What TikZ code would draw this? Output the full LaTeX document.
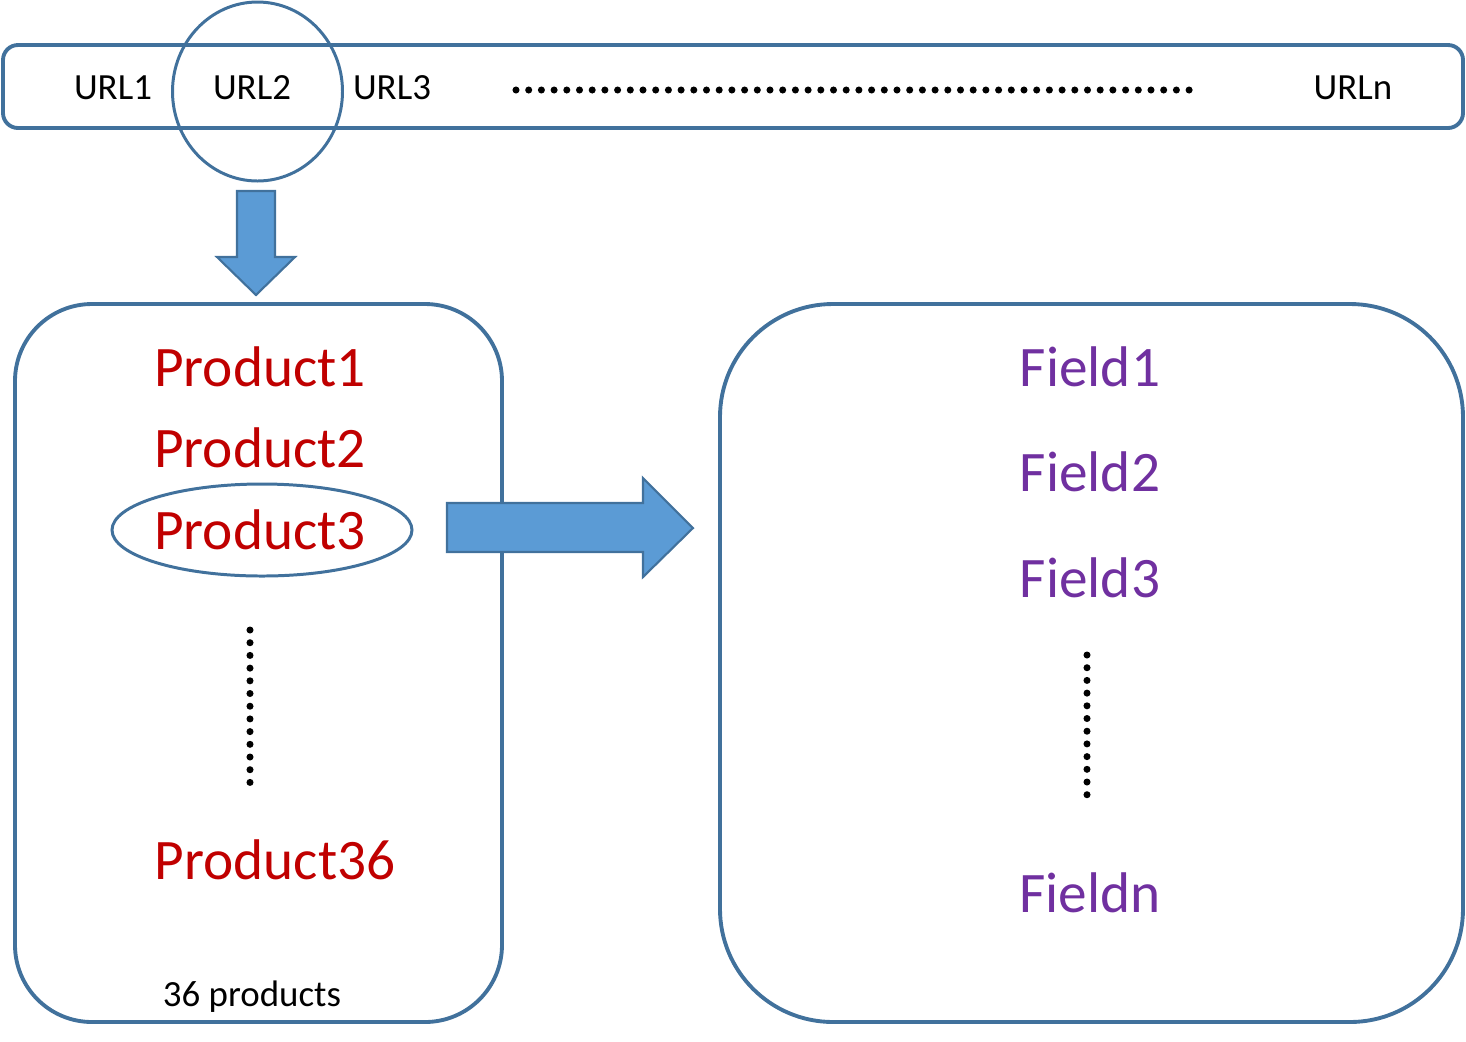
\documentclass[tikz,border=0pt]{standalone}
\usepackage{fontspec}
\setmainfont{Carlito}
\usepackage{xcolor}
\usepackage{tikz}
\usetikzlibrary{positioning}

\definecolor{edgeblue}{HTML}{41719C}
\definecolor{fillblue}{HTML}{5B9BD5}
\definecolor{prodred}{HTML}{C00000}
\definecolor{fieldpurple}{HTML}{7030A0}

\begin{document}
\begin{tikzpicture}[every node/.style={font=\fontsize{10.5}{12}\selectfont}]
  % Styles
  \tikzstyle{urlbar}=[rectangle, draw=edgeblue, line width=1.1pt, rounded corners=0.15cm, minimum width=14.6cm, minimum height=0.83cm]
  \tikzstyle{url}=[inner sep=0pt, text=black]
  \tikzstyle{panel}=[rectangle, draw=edgeblue, line width=1.1pt]
  \tikzstyle{product}=[inner sep=0pt, text=prodred, font=\fontsize{16.3}{19}\selectfont]
  \tikzstyle{field}=[inner sep=0pt, text=fieldpurple, font=\fontsize{16.3}{19}\selectfont]
  \tikzstyle{blockarrow}=[draw=edgeblue, fill=fillblue, line width=0.6pt]
  \tikzstyle{dotline}=[line width=2pt, line cap=round, dash pattern=on 0pt off 0.127cm]

  \useasboundingbox (0,0) rectangle (14.66,-10.41);

  % URL list
  \node[urlbar] (bar) at (7.33,-0.865) {};
  \node[url] (url1) at (1.13,-0.88) {URL1};
  \node[url] (url2) at (2.52,-0.88) {URL2};
  \node[url] (url3) at (3.92,-0.88) {URL3};
  \node[url] (urln) at (13.53,-0.88) {URLn};
  \draw[edgeblue, line width=0.85pt] (2.575,-0.915) ellipse (0.85cm and 0.895cm);
  \coordinate (hdotsA) at (5.16,-0.9);
  \coordinate (hdotsB) at (11.9,-0.9);
  \draw[dotline] (hdotsA) -- (hdotsB);

  % Down arrow
  \draw[blockarrow] (2.37,-1.91) -- (2.75,-1.91) -- (2.75,-2.57) -- (2.95,-2.57)
    -- (2.56,-2.95) -- (2.17,-2.57) -- (2.37,-2.57) -- cycle;

  % Products
  \node[panel, rounded corners=0.77cm, minimum width=4.87cm, minimum height=7.18cm] (prodbox) at (2.585,-6.63) {};
  \node[product] (p1) at (2.6,-3.67) {Product1};
  \node[product] (p2) at (2.6,-4.48) {Product2};
  \node[product] (p3) at (2.6,-5.30) {Product3};
  \draw[edgeblue, line width=0.85pt] (2.62,-5.3) ellipse (1.5cm and 0.46cm);
  \coordinate (pdotsA) at (2.5,-6.3);
  \coordinate (pdotsB) at (2.5,-7.83);
  \draw[dotline] (pdotsA) -- (pdotsB);
  \node[product] (p36) at (2.75,-8.6) {Product36};
  \node[url] (count) at (2.52,-9.97) {36 products};

  % Right arrow
  \draw[blockarrow] (4.47,-5.03) -- (6.43,-5.03) -- (6.43,-4.78) -- (6.93,-5.28)
    -- (6.43,-5.77) -- (6.43,-5.52) -- (4.47,-5.52) -- cycle;

  % Fields
  \node[panel, rounded corners=1.13cm, minimum width=7.43cm, minimum height=7.18cm] (fieldbox) at (10.915,-6.63) {};
  \node[field] (f1) at (10.9,-3.67) {Field1};
  \node[field] (f2) at (10.9,-4.72) {Field2};
  \node[field] (f3) at (10.9,-5.78) {Field3};
  \coordinate (fdotsA) at (10.87,-6.55);
  \coordinate (fdotsB) at (10.87,-8.06);
  \draw[dotline] (fdotsA) -- (fdotsB);
  \node[field] (fn) at (10.9,-8.93) {Fieldn};
\end{tikzpicture}
\end{document}
